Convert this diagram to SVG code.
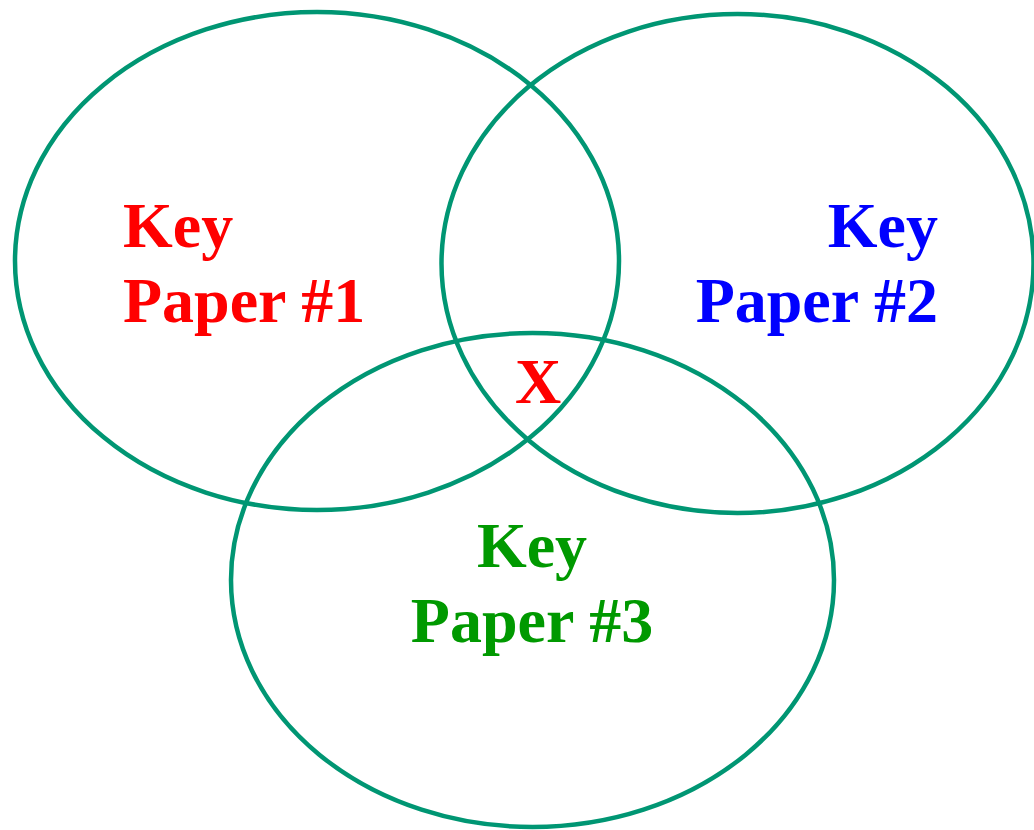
<svg xmlns="http://www.w3.org/2000/svg" width="1034" height="830" viewBox="0 0 1034 830">
  <style>
    .set { fill: none; stroke: #009673; stroke-width: 4.5; }
    .lbl { font-family: "Liberation Serif", "Times New Roman", serif; font-weight: bold; font-size: 64px; }
    .red { fill: #ff0000; }
    .blue { fill: #0000ff; }
    .green { fill: #009900; }
  </style>
  <rect width="1034" height="830" fill="#ffffff"/>
  <g id="paper1">
    <ellipse class="set" cx="317" cy="261" rx="302" ry="249"/>
    <text class="lbl red" x="123" y="247">Key</text>
    <text class="lbl red" x="123" y="322">Paper #1</text>
  </g>
  <g id="paper2">
    <ellipse class="set" cx="737.5" cy="263.5" rx="296" ry="249.5"/>
    <text class="lbl blue" x="938" y="247" text-anchor="end">Key</text>
    <text class="lbl blue" x="938" y="322" text-anchor="end">Paper #2</text>
  </g>
  <g id="paper3">
    <ellipse class="set" cx="532.5" cy="580" rx="301.5" ry="247"/>
    <text class="lbl green" x="532" y="567" text-anchor="middle">Key</text>
    <text class="lbl green" x="532" y="642" text-anchor="middle">Paper #3</text>
  </g>
  <g id="overlap">
    <text class="lbl red" x="538" y="403" text-anchor="middle">X</text>
  </g>
</svg>
